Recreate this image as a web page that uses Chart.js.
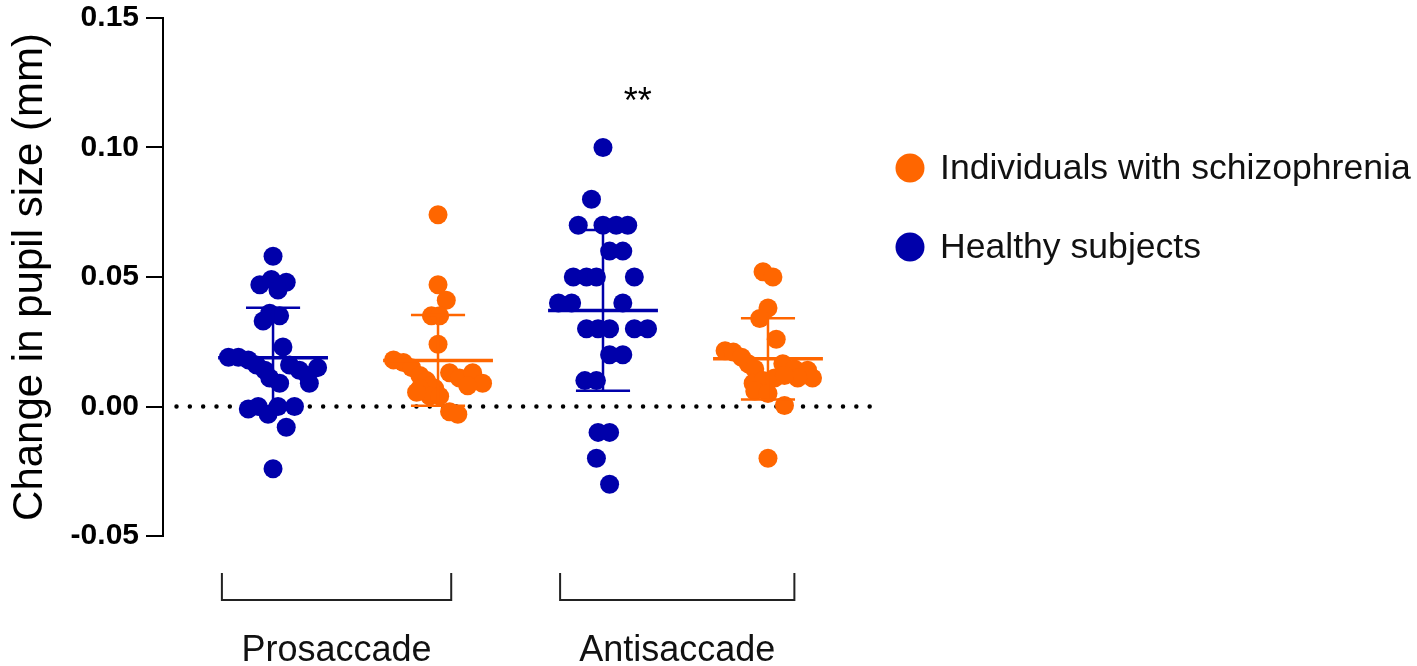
<!DOCTYPE html>
<html>
<head>
<meta charset="utf-8">
<script src="https://cdn.jsdelivr.net/npm/chart.js@4.4.1/dist/chart.umd.min.js"></script>
<style>
  body { margin: 0; background: #fff; }
  #wrap { width: 1417px; height: 666px; position: relative; }
</style>
</head>
<body>
<div id="wrap"><canvas id="myChart"></canvas></div>
<script>
// groups along the bottom, and the two series shown in the legend
var groupLabels = ['Prosaccade', 'Antisaccade'];
var seriesLabels = ['Individuals with schizophrenia', 'Healthy subjects'];
var seriesColors = ['#FF6600', '#0000AA'];
var yTicks = [-0.05, 0, 0.05, 0.10, 0.15];

// healthy subjects, prosaccade
var healthyPro = [0.058, 0.047, 0.049, 0.048, 0.045, 0.036, 0.035, 0.033, 0.023, 0.019, 0.019, 0.018, 0.016, 0.014,
  0.011, 0.009, 0.016, 0.014, 0.012, 0.015, 0.009, -0.001, 0.000, -0.003, 0.000, 0.000, -0.008, -0.024];
var healthyProSpread = [0, -0.08, -0.01, 0.08, 0.03, -0.02, 0.04, -0.06, 0.06, -0.27, -0.21, -0.15, -0.10, -0.05,
  -0.02, 0.04, 0.10, 0.16, 0.21, 0.27, 0.22, -0.15, -0.09, -0.03, 0.03, 0.13, 0.08, 0];

// schizophrenia, prosaccade
var schizPro = [0.074, 0.047, 0.041, 0.035, 0.035, 0.024, 0.018, 0.017, 0.015, 0.012, 0.010, 0.008, 0.007, 0.013,
  0.011, 0.013, 0.009, 0.008, 0.007, 0.004, 0.004, 0.0055, -0.002, -0.003];
var schizProSpread = [0, 0, 0.05, -0.04, 0.01, 0, -0.27, -0.21, -0.16, -0.11, -0.07, -0.05, -0.02, 0.07,
  0.13, 0.21, 0.27, 0.18, -0.11, -0.05, 0.01, -0.13, 0.07, 0.12];

// healthy subjects, antisaccade
var healthyAnti = [0.100, 0.080, 0.070, 0.070, 0.070, 0.070, 0.060, 0.060, 0.050, 0.050, 0.050, 0.050, 0.040, 0.040,
  0.040, 0.030, 0.030, 0.030, 0.030, 0.030, 0.020, 0.020, 0.010, 0.010, -0.010, -0.010, -0.020, -0.030];
var healthyAntiSpread = [0, -0.07, -0.15, 0, 0.08, 0.15, 0.04, 0.12, -0.18, -0.10, -0.04, 0.19, -0.27, -0.19,
  0.12, -0.10, -0.03, 0.04, 0.19, 0.27, 0.04, 0.12, -0.11, -0.04, -0.03, 0.04, -0.04, 0.04];

// schizophrenia, antisaccade
var schizAnti = [0.052, 0.050, 0.038, 0.034, 0.026, 0.0215, 0.021, 0.019, 0.0165, 0.0145, 0.0165, 0.0145, 0.014,
  0.011, 0.011, 0.009, 0.010, 0.011, 0.012, 0.006, 0.005, 0.0004, -0.020];
var schizAntiSpread = [-0.03, 0.03, 0, -0.05, 0.05, -0.26, -0.21, -0.16, -0.12, -0.08, 0.09, 0.16, 0.24,
  0.27, 0.18, -0.09, -0.03, 0.04, 0.10, -0.08, 0, 0.10, 0];

// mean and SD: [prosaccade, antisaccade]
var healthyMean = [0.0188, 0.0371];
var healthySD = [0.0193, 0.0310];
var schizMean = [0.0178, 0.0184];
var schizSD = [0.0175, 0.0157];

var FONT = '"Liberation Sans", Arial, sans-serif';

// slot on the x axis: healthy left, schizophrenia right within each group
function slot(groupIdx, healthy) {
  return groupIdx * 2 + (healthy ? 1 : 2);
}

function toPoints(vals, spread, pos) {
  return vals.map(function (v, i) { return { x: pos + spread[i], y: v }; });
}

var schizData = toPoints(schizPro, schizProSpread, slot(0, false))
  .concat(toPoints(schizAnti, schizAntiSpread, slot(1, false)));
var healthyData = toPoints(healthyPro, healthyProSpread, slot(0, true))
  .concat(toPoints(healthyAnti, healthyAntiSpread, slot(1, true)));

// bracket ends under each group, relative to its healthy / schizophrenia slot
var bracketEnds = [[-0.31, 0.08], [-0.26, 0.16]];

// dotted zero line, error bars, brackets, legend, stars
var extras = {
  id: 'extras',
  beforeDatasetsDraw: function (chart) {
    var ctx = chart.ctx, a = chart.chartArea, y = chart.scales.y.getPixelForValue(0);
    ctx.save();
    ctx.strokeStyle = '#000';
    ctx.lineWidth = 4.5;
    ctx.lineCap = 'round';
    ctx.setLineDash([0, 13.33]);
    ctx.beginPath();
    ctx.moveTo(a.left + 13.5, y);
    ctx.lineTo(a.right - 2, y);
    ctx.stroke();
    ctx.restore();
  },
  afterDatasetsDraw: function (chart) {
    var ctx = chart.ctx, xs = chart.scales.x, ys = chart.scales.y, a = chart.chartArea;
    ctx.save();

    function bar(pos, mean, sd, color) {
      var cx = xs.getPixelForValue(pos);
      var m = ys.getPixelForValue(mean);
      var top = ys.getPixelForValue(mean + sd);
      var bot = ys.getPixelForValue(mean - sd);
      var half = xs.getPixelForValue(pos + 0.333) - cx;
      var cap = xs.getPixelForValue(pos + 0.164) - cx;
      ctx.strokeStyle = color;
      ctx.lineWidth = 2.5;
      ctx.beginPath();
      ctx.moveTo(cx, top); ctx.lineTo(cx, bot);
      ctx.moveTo(cx - cap, top); ctx.lineTo(cx + cap, top);
      ctx.moveTo(cx - cap, bot); ctx.lineTo(cx + cap, bot);
      ctx.stroke();
      ctx.lineWidth = 3.5;
      ctx.beginPath();
      ctx.moveTo(cx - half, m); ctx.lineTo(cx + half, m);
      ctx.stroke();
    }
    for (var g = 0; g < groupLabels.length; g++) {
      bar(slot(g, true), healthyMean[g], healthySD[g], seriesColors[1]);
      bar(slot(g, false), schizMean[g], schizSD[g], seriesColors[0]);
    }

    // significance stars above antisaccade healthy
    ctx.fillStyle = '#000';
    ctx.font = '36px ' + FONT;
    ctx.textAlign = 'center';
    ctx.textBaseline = 'alphabetic';
    ctx.fillText('**', xs.getPixelForValue(slot(1, true) + 0.21), ys.getPixelForValue(0.1135));

    // group brackets and labels under the plot
    ctx.strokeStyle = '#222';
    ctx.lineWidth = 2;
    for (var k = 0; k < groupLabels.length; k++) {
      var l = xs.getPixelForValue(slot(k, true) + bracketEnds[k][0]);
      var r = xs.getPixelForValue(slot(k, false) + bracketEnds[k][1]);
      var t = a.bottom + 37, b = a.bottom + 64;
      ctx.beginPath();
      ctx.moveTo(l, t); ctx.lineTo(l, b); ctx.lineTo(r, b); ctx.lineTo(r, t);
      ctx.stroke();
      ctx.fillStyle = '#111';
      ctx.font = '36px ' + FONT;
      ctx.textAlign = 'center';
      ctx.fillText(groupLabels[k], (l + r) / 2, a.bottom + 125);
    }

    // legend
    var lx = a.right + 30;
    var rows = [168, 247];
    ctx.font = '35.6px ' + FONT;
    ctx.textAlign = 'left';
    for (var s = 0; s < seriesLabels.length; s++) {
      ctx.fillStyle = seriesColors[s];
      ctx.beginPath();
      ctx.arc(lx, rows[s], 14.5, 0, Math.PI * 2);
      ctx.fill();
      ctx.fillStyle = '#111';
      ctx.fillText(seriesLabels[s], lx + 30, rows[s] + 11);
    }
    ctx.restore();
  }
};

const ctx = document.getElementById('myChart');

const chart = new Chart(ctx, {
  type: 'scatter',
  data: {
    datasets: [
      {
        label: seriesLabels[0],
        data: schizData,
        backgroundColor: seriesColors[0],
        borderWidth: 0,
        pointRadius: 9.5
      },
      {
        label: seriesLabels[1],
        data: healthyData,
        backgroundColor: seriesColors[1],
        borderWidth: 0,
        pointRadius: 9.5
      }
    ]
  },
  options: {
    responsive: true,
    maintainAspectRatio: false,
    animation: false,
    layout: { padding: { left: 0, right: 537, top: 18, bottom: 130 } },
    plugins: { legend: { display: false }, tooltip: { enabled: false } },
    scales: {
      x: { type: 'linear', min: 0.333, max: 4.679, display: false },
      y: {
        min: -0.05,
        max: 0.15,
        afterBuildTicks: function (scale) {
          scale.ticks = yTicks.map(function (v) { return { value: v }; });
        },
        afterFit: function (scale) {
          scale.width = 163;
          scale.paddingTop = 0;
          scale.paddingBottom = 0;
        },
        ticks: {
          color: '#000',
          padding: 7,
          font: { family: FONT, size: 30, weight: 'bold' },
          callback: function (v) { return Number(v).toFixed(2); }
        },
        grid: { drawOnChartArea: false, drawTicks: true, tickLength: 17, color: '#000', lineWidth: 2 },
        border: { display: true, color: '#000', width: 2 },
        title: {
          display: true,
          text: 'Change in pupil size (mm)',
          color: '#000',
          padding: { top: 5, bottom: 0 },
          font: { family: FONT, size: 42, weight: 'normal' }
        }
      }
    }
  },
  plugins: [extras]
});
</script>
</body>
</html>
